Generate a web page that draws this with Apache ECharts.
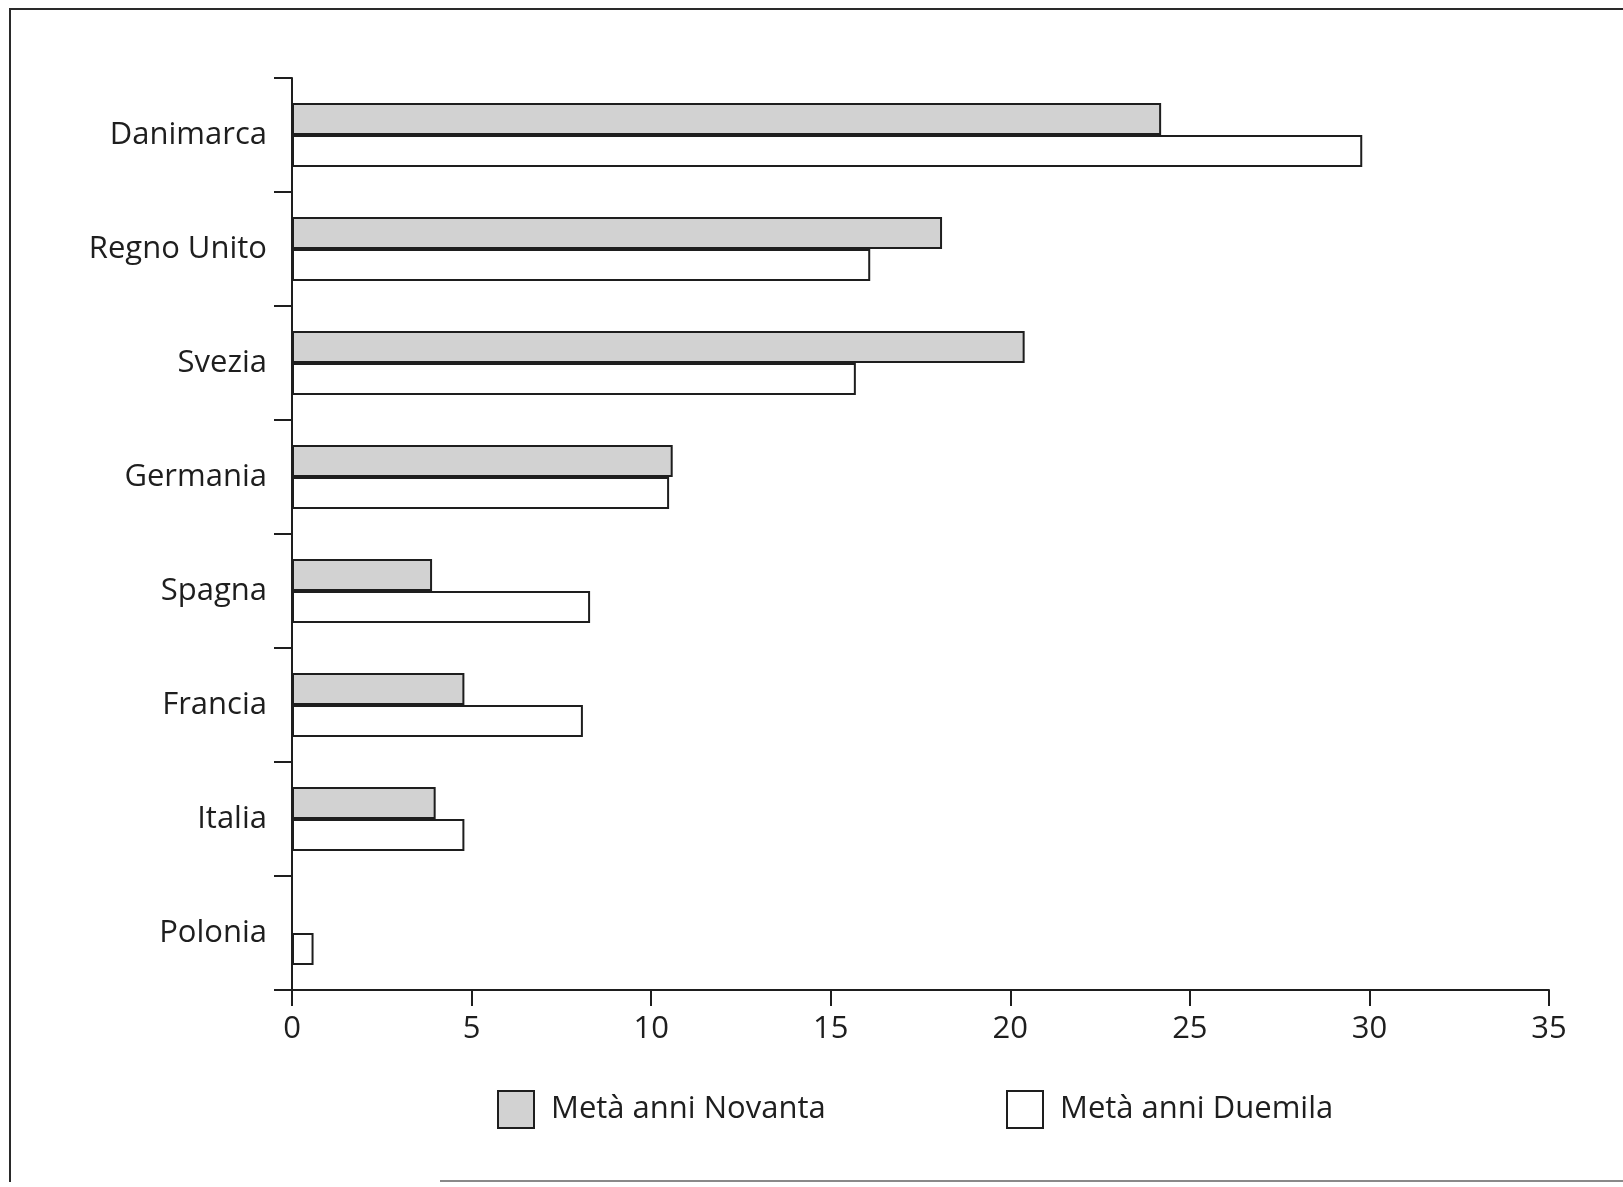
<!DOCTYPE html>
<html>
<head>
<meta charset="utf-8">
<script src="https://cdn.jsdelivr.net/npm/echarts@6/dist/echarts.min.js"></script>
<style>
  html, body { margin: 0; padding: 0; background: #ffffff; }
  #chart { position: absolute; left: 0; top: 0; width: 1623px; height: 1187px; }
  #frame { position: absolute; left: 9px; top: 8px; width: 1640px; height: 1172px;
           border-left: 2px solid #2a2a2a; border-top: 2px solid #2a2a2a;
           pointer-events: none; }
  #frameBottom { position: absolute; left: 440px; top: 1180px; width: 1200px; height: 0;
           border-top: 2px solid #8a8a8a; pointer-events: none; }
</style>
</head>
<body>
<div id="chart"></div>
<div id="frame"></div>
<div id="frameBottom"></div>
<script>
const categories = ['Danimarca', 'Regno Unito', 'Svezia', 'Germania', 'Spagna', 'Francia', 'Italia', 'Polonia'];
const seriesNames = ['Metà anni Novanta', 'Metà anni Duemila'];
const novanta = [24.2, 18.1, 20.4, 10.6, 3.9, 4.8, 4.0, null];
const duemila = [29.8, 16.1, 15.7, 10.5, 8.3, 8.1, 4.8, 0.6];
const xTicks = [0, 5, 10, 15, 20, 25, 30, 35];

const FONT = '"Open Sans", "Noto Sans", sans-serif';
const INK = '#1e1e1e';

const chart = echarts.init(document.getElementById('chart'), null, { renderer: 'canvas' });
chart.setOption({
  backgroundColor: '#ffffff',
  animation: false,
  grid: { left: 292, right: 74, top: 78, bottom: 197, containLabel: false },
  xAxis: {
    type: 'value',
    min: xTicks[0],
    max: xTicks[xTicks.length - 1],
    interval: 5,
    axisLine: { show: true, lineStyle: { color: INK, width: 2 } },
    axisTick: { show: true, length: 16, lineStyle: { color: INK, width: 2 } },
    axisLabel: { color: INK, fontSize: 31, fontFamily: FONT, margin: 24 },
    splitLine: { show: false }
  },
  yAxis: {
    type: 'category',
    data: categories,
    inverse: true,
    axisLine: { show: true, lineStyle: { color: INK, width: 2 } },
    axisTick: { show: true, length: 18, lineStyle: { color: INK, width: 2 } },
    axisLabel: { color: INK, fontSize: 31, fontFamily: FONT, margin: 25 },
    splitLine: { show: false }
  },
  legend: [
    {
      data: [seriesNames[0]],
      left: 497, top: 1090, padding: 0,
      icon: 'rect', itemWidth: 36, itemHeight: 37, itemGap: 17,
      textStyle: { color: INK, fontSize: 31, fontFamily: FONT, padding: [0, 0, 0, 12] },
      selectedMode: false
    },
    {
      data: [seriesNames[1]],
      left: 1006, top: 1090, padding: 0,
      icon: 'rect', itemWidth: 36, itemHeight: 37, itemGap: 17,
      textStyle: { color: INK, fontSize: 31, fontFamily: FONT, padding: [0, 0, 0, 12] },
      selectedMode: false
    }
  ],
  series: [
    {
      name: seriesNames[0],
      type: 'bar',
      data: novanta,
      barWidth: 32,
      barGap: '0%',
      itemStyle: { color: '#d2d2d2', borderColor: INK, borderWidth: 2 }
    },
    {
      name: seriesNames[1],
      type: 'bar',
      data: duemila,
      barWidth: 32,
      barGap: '0%',
      itemStyle: { color: '#ffffff', borderColor: INK, borderWidth: 2 }
    }
  ]
});
</script>
</body>
</html>
